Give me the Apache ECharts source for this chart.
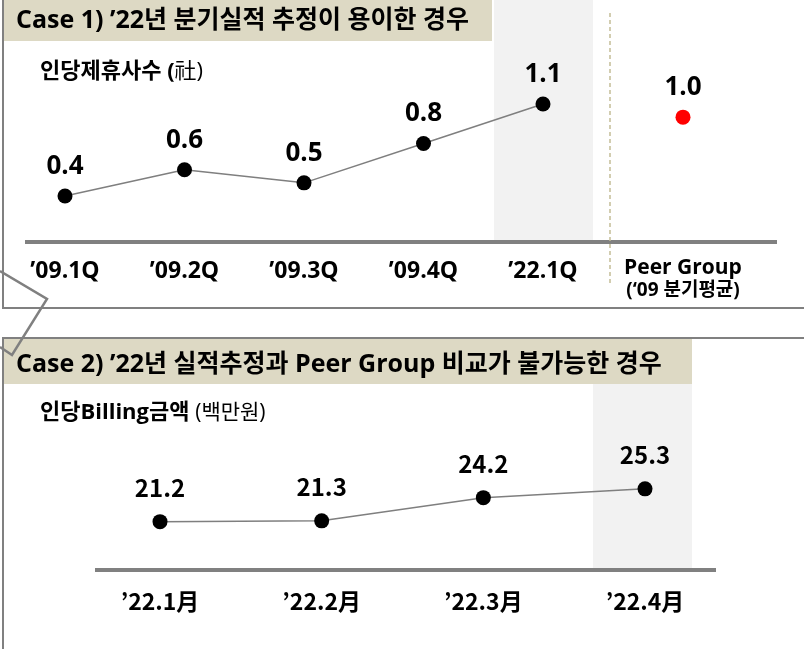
<!DOCTYPE html>
<html>
<head>
    <meta charset="utf-8">
    <style type="text/css">
        html,body { margin: 0px; padding: 0px; height: 100%; background: #fff; }
    </style>
    <script src="https://cdn.jsdelivr.net/npm/echarts@6/dist/echarts.min.js"></script>
</head>
<body>
    <div id="canvas" style="width: 804px; height: 649px;"></div>
    <script type="text/javascript">
        // Case 1 데이터
        var quarters = ['’09.1Q', '’09.2Q', '’09.3Q', '’09.4Q', '’22.1Q'];
        var partners = [0.4, 0.6, 0.5, 0.8, 1.1];
        var peerCats = ['Peer Group'];
        var peerVals = [1.0];
        // Case 2 데이터
        var months = ['’22.1月', '’22.2月', '’22.3月', '’22.4月'];
        var billing = [21.2, 21.3, 24.2, 25.3];

        var WIDE = "'Open Sans', 'Noto Sans CJK KR', sans-serif";   // 라틴 글자가 넓은 쪽
        var NARROW = "'Noto Sans CJK KR', sans-serif";
        var GREY = '#808080';

        var myChart = echarts.init(document.getElementById('canvas'));

        var dotLabel = function (font, size, dist) {
            return {
                show: true, position: 'top', distance: dist,
                color: '#000', fontFamily: font, fontWeight: 'bold', fontSize: size,
                formatter: function (p) { return p.value.toFixed(1); }
            };
        };

        var option = {
            backgroundColor: '#fff',
            animation: false,
            grid: [
                { left: 5.25, width: 597.5, top: 51.46, bottom: 400.44 },
                { left: 633, width: 100, top: 51.46, bottom: 400.44 },
                { left: 79.17, width: 646.67, top: 475.25, bottom: 117.75 }
            ],
            xAxis: [
                { gridIndex: 0, type: 'category', data: quarters,
                  axisLine: {show: false}, axisTick: {show: false},
                  axisLabel: { color: '#000', fontFamily: WIDE, fontWeight: 'bold', fontSize: 23, margin: 11 } },
                { gridIndex: 1, type: 'category', data: peerCats,
                  axisLine: {show: false}, axisTick: {show: false},
                  axisLabel: {
                      margin: 8,
                      formatter: function (v) { return '{a|' + v + '}\n{b|(‘09 분기평균)}'; },
                      rich: {
                          a: { fontFamily: WIDE, fontWeight: 'bold', fontSize: 21, color: '#000', lineHeight: 23 },
                          b: { fontFamily: WIDE, fontWeight: 'bold', fontSize: 19, color: '#000', lineHeight: 23 }
                      }
                  } },
                { gridIndex: 2, type: 'category', data: months,
                  axisLine: {show: false}, axisTick: {show: false},
                  axisLabel: { color: '#000', fontFamily: NARROW, fontWeight: 'bold', fontSize: 23, margin: 59 } }
            ],
            yAxis: [
                { gridIndex: 0, type: 'value', min: 0, max: 1.5, show: false },
                { gridIndex: 1, type: 'value', min: 0, max: 1.5, show: false },
                { gridIndex: 2, type: 'value', min: 20, max: 27, show: false }
            ],
            series: [
                { type: 'line', xAxisIndex: 0, yAxisIndex: 0, data: partners,
                  symbol: 'circle', symbolSize: 15, z: 5,
                  itemStyle: { color: '#000' },
                  lineStyle: { color: '#7f7f7f', width: 1.5 },
                  label: dotLabel(WIDE, 26, 9) },
                { type: 'line', xAxisIndex: 1, yAxisIndex: 1, data: peerVals,
                  symbol: 'circle', symbolSize: 15, z: 5,
                  itemStyle: { color: '#ff0000' },
                  label: dotLabel(WIDE, 26, 9) },
                { type: 'line', xAxisIndex: 2, yAxisIndex: 2, data: billing,
                  symbol: 'circle', symbolSize: 15, z: 5,
                  itemStyle: { color: '#000' },
                  lineStyle: { color: '#7f7f7f', width: 1.5 },
                  label: dotLabel(NARROW, 24, 14) }
            ],
            graphic: [
                // 음영 / 제목 배경
                { type: 'rect', z: -10, shape: {x: 494, y: 0, width: 99, height: 242}, style: {fill: '#f2f2f2'} },
                { type: 'rect', z: -10, shape: {x: 593, y: 384, width: 99, height: 186}, style: {fill: '#f2f2f2'} },
                { type: 'rect', z: -10, shape: {x: 3, y: 0, width: 489, height: 41}, style: {fill: '#ddd9c4'} },
                { type: 'rect', z: -10, shape: {x: 3, y: 338, width: 689, height: 46}, style: {fill: '#ddd9c4'} },
                // 테두리
                { type: 'polyline', z: 1, shape: {points: [[3, 0], [3, 308], [804, 308]]},
                  style: {stroke: GREY, lineWidth: 2, fill: null} },
                { type: 'polyline', z: 1, shape: {points: [[804, 338], [3, 338], [3, 649]]},
                  style: {stroke: GREY, lineWidth: 2, fill: null} },
                { type: 'polyline', z: 1, shape: {points: [[0, 271], [47, 299], [12, 355], [0, 347]]},
                  style: {stroke: GREY, lineWidth: 2.5, fill: null} },
                // 축선
                { type: 'line', z: 1, shape: {x1: 25, y1: 242, x2: 777, y2: 242}, style: {stroke: GREY, lineWidth: 4} },
                { type: 'line', z: 1, shape: {x1: 95, y1: 570, x2: 716, y2: 570}, style: {stroke: GREY, lineWidth: 4} },
                { type: 'line', z: 1, shape: {x1: 610, y1: 13, x2: 610, y2: 285},
                  style: {stroke: '#c4bd97', lineWidth: 1.5, lineDash: [4, 3]} },
                // 제목
                { type: 'text', z: 2, x: 16, y: 21, style: {
                    text: 'Case 1) ’22년 분기실적 추정이 용이한 경우', fill: '#000',
                    font: 'bold 25px ' + WIDE, textVerticalAlign: 'middle' } },
                { type: 'text', z: 2, x: 16, y: 365, style: {
                    text: 'Case 2) ’22년 실적추정과 Peer Group 비교가 불가능한 경우', fill: '#000',
                    font: 'bold 25px ' + WIDE, textVerticalAlign: 'middle' } },
                { type: 'text', z: 2, x: 40, y: 72, style: {
                    text: '{a|인당제휴사수 (}{b|社)}', textVerticalAlign: 'middle',
                    rich: { a: {font: 'bold 22px ' + WIDE, fill: '#000'}, b: {font: '22px ' + WIDE, fill: '#000'} } } },
                { type: 'text', z: 2, x: 40, y: 413, style: {
                    text: '{a|인당Billing금액 }{b|(백만원)}', textVerticalAlign: 'middle',
                    rich: { a: {font: 'bold 22px ' + WIDE, fill: '#000'}, b: {font: '21px ' + WIDE, fill: '#000'} } } }
            ]
        };

        myChart.setOption(option);
    </script>
</body>
</html>
